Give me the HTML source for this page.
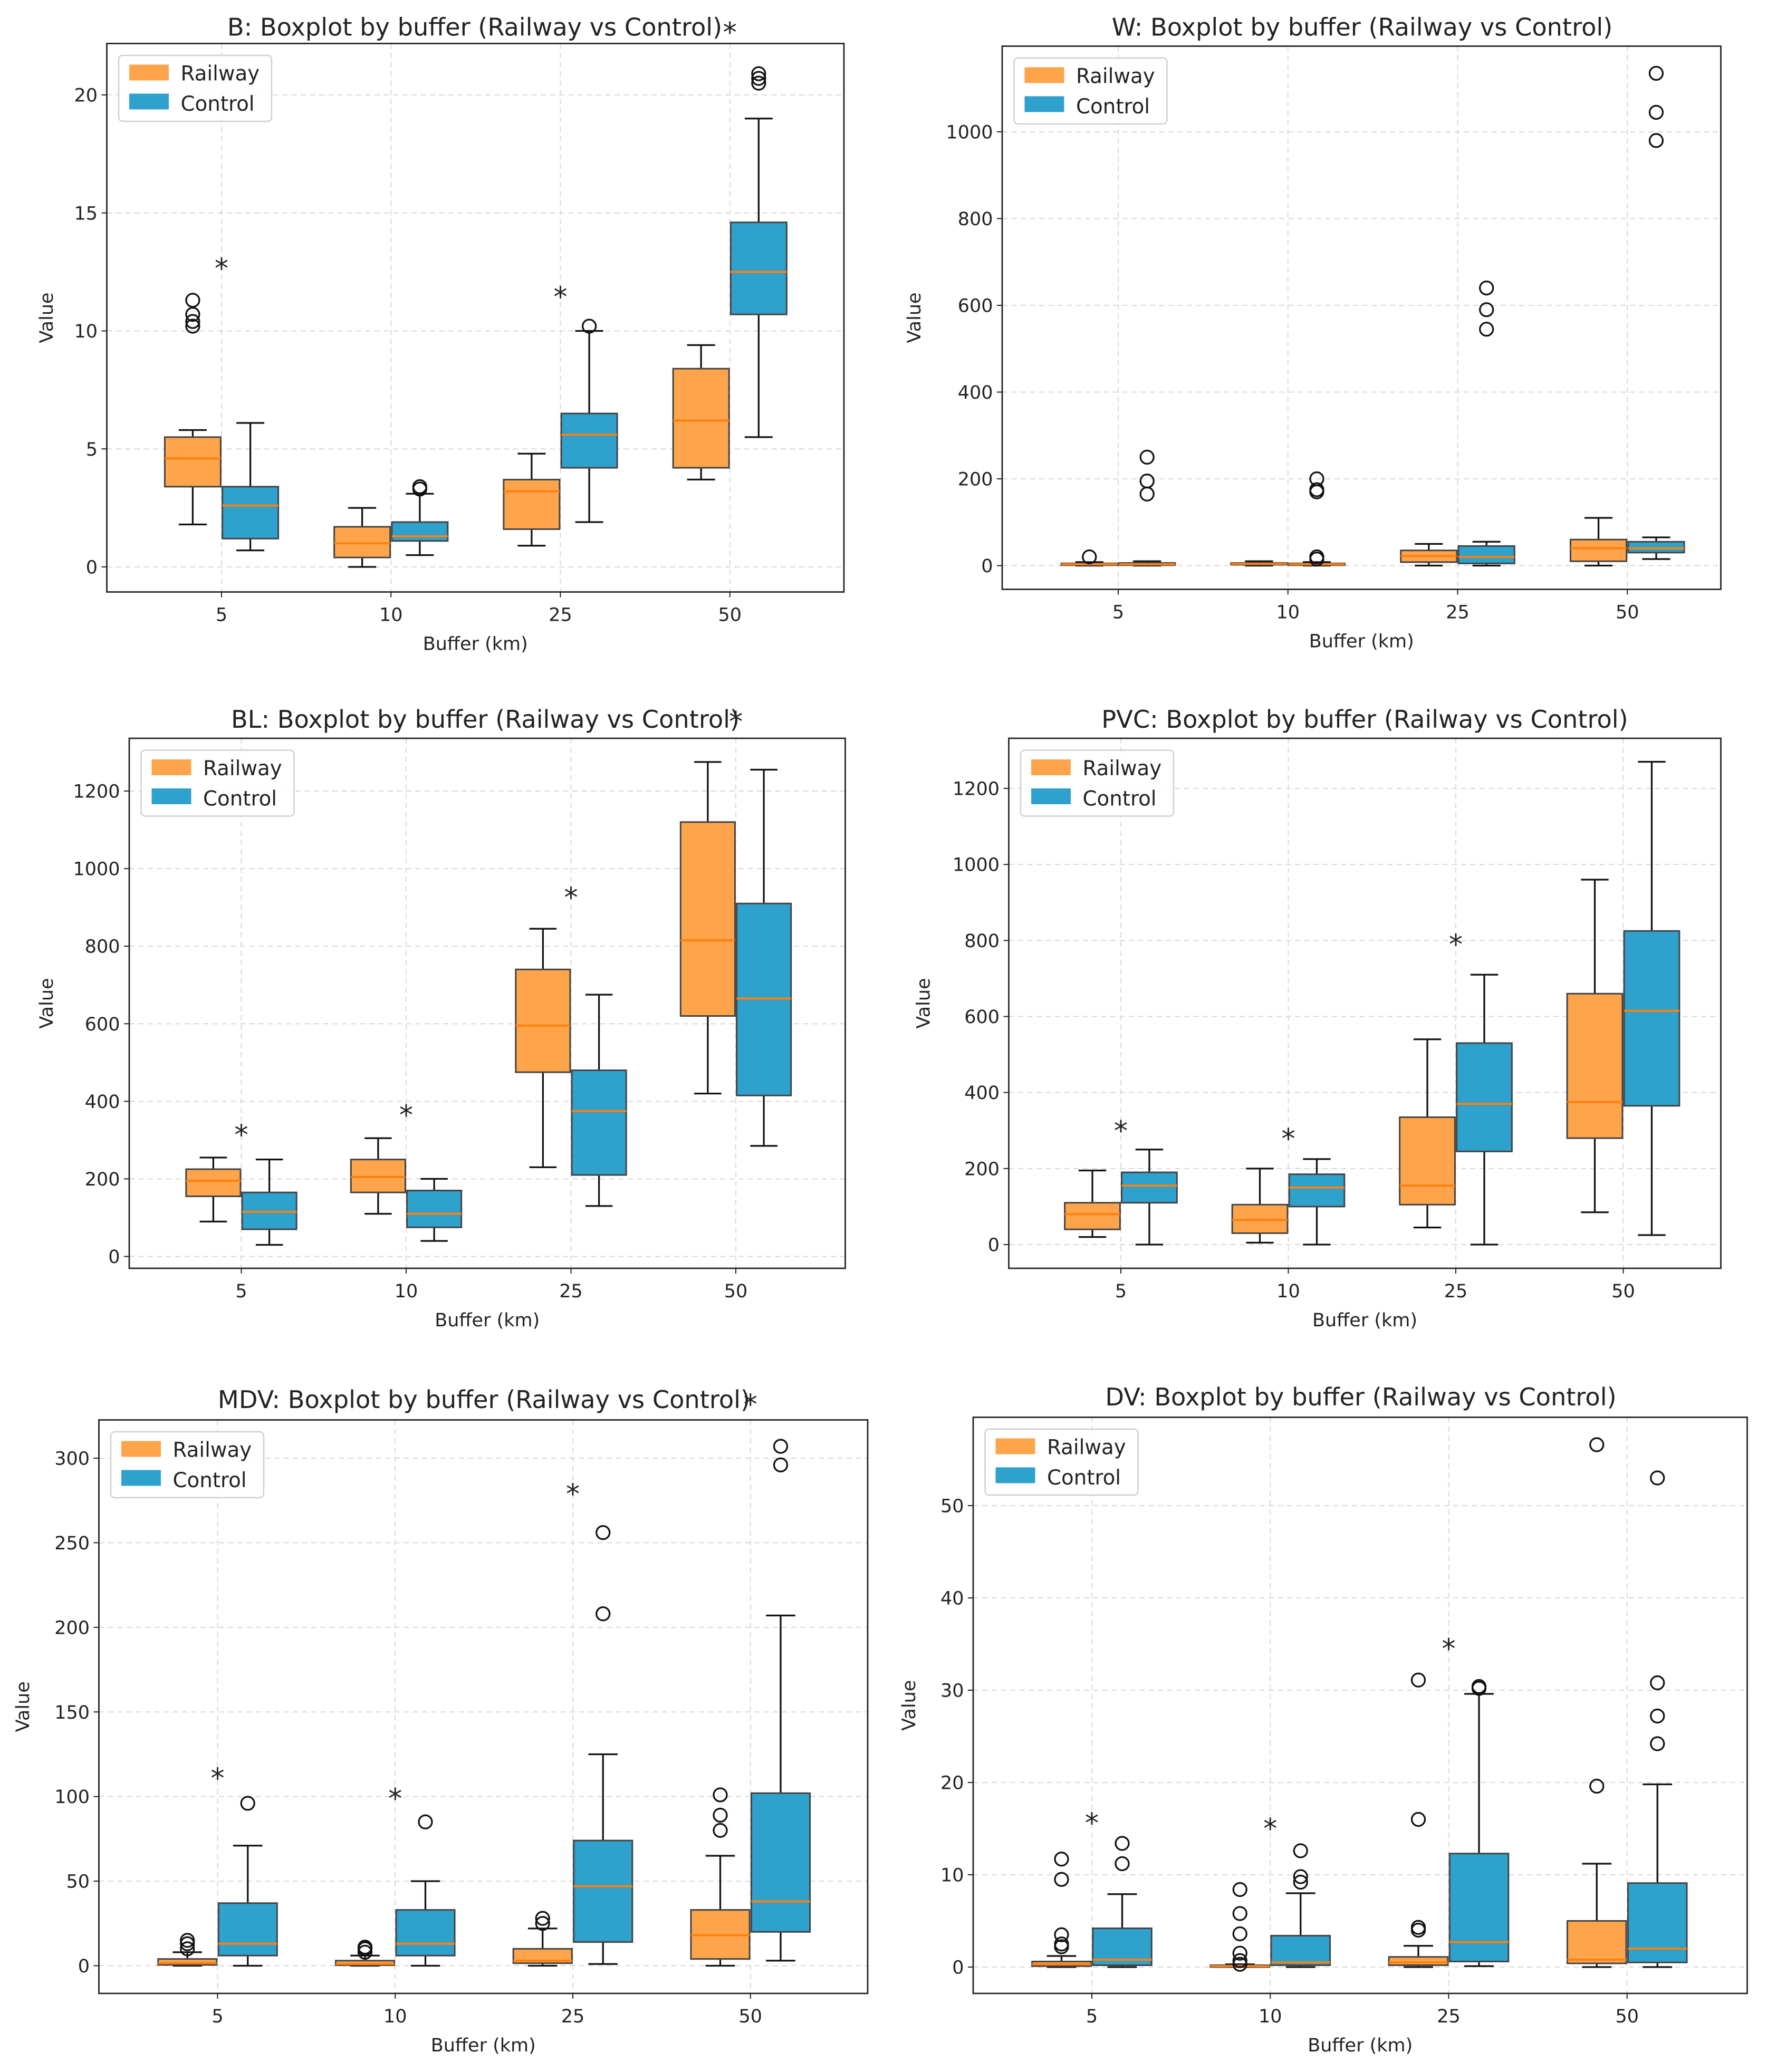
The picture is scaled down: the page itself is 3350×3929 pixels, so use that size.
<!DOCTYPE html>
<html><head><meta charset="utf-8"><style>
html,body{margin:0;padding:0;background:#fff}
svg{display:block}
text{font-family:"DejaVu Sans","Liberation Sans",sans-serif;fill:#222}
</style></head><body>
<svg id="fig" xmlns="http://www.w3.org/2000/svg" width="3350" height="3929" viewBox="0 0 1340 1571.6"></svg>
<script>
const categories = ["5","10","25","50"];
// stats per buffer: [whisker-low, q1, median, q3, whisker-high]
const bRailway = [[1.8,3.4,4.6,5.5,5.8],[0,0.4,1.0,1.7,2.5],[0.9,1.6,3.2,3.7,4.8],[3.7,4.2,6.2,8.4,9.4]];
const bControl = [[0.7,1.2,2.6,3.4,6.1],[0.5,1.1,1.3,1.9,3.1],[1.9,4.2,5.6,6.5,10.0],[5.5,10.7,12.5,14.6,19.0]];
const bRailwayFliers = [[10.2,10.4,10.7,11.3],[],[],[]];
const bControlFliers = [[],[3.3,3.4],[10.2],[20.5,20.7,20.9]];
const bStars = [12.8,null,11.6,22.8];
const bTicks = [0,5,10,15,20];

const wRailway = [[0,1,3,5,8],[0,2,4,6,10],[0,8,22,35,50],[0,10,40,60,110]];
const wControl = [[0,1,3,6,10],[0,1,3,5,8],[0,5,20,45,55],[15,30,40,55,65]];
const wRailwayFliers = [[20],[],[],[]];
const wControlFliers = [[165,195,250],[15,20,170,175,200],[545,590,640],[980,1045,1135]];
const wStars = [null,null,null,null];
const wTicks = [0,200,400,600,800,1000];

const blRailway = [[90,155,195,225,255],[110,165,205,250,305],[230,475,595,740,845],[420,620,815,1120,1275]];
const blControl = [[30,70,115,165,250],[40,75,110,170,200],[130,210,375,480,675],[285,415,665,910,1255]];
const blRailwayFliers = [[],[],[],[]];
const blControlFliers = [[],[],[],[]];
const blStars = [323,374,935,1388];
const blTicks = [0,200,400,600,800,1000,1200];

const pvcRailway = [[20,40,80,110,195],[5,30,65,105,200],[45,105,155,335,540],[85,280,375,660,960]];
const pvcControl = [[0,110,155,190,250],[0,100,150,185,225],[0,245,370,530,710],[25,365,615,825,1270]];
const pvcRailwayFliers = [[],[],[],[]];
const pvcControlFliers = [[],[],[],[]];
const pvcStars = [309,288,799,null];
const pvcTicks = [0,200,400,600,800,1000,1200];

const mdvRailway = [[0,0.5,1.5,4,8],[0,0.3,1,3,6],[0,1.5,3,10,22],[0,4,18,33,65]];
const mdvControl = [[0,6,13,37,71],[0,6,13,33,50],[1,14,47,74,125],[3,20,38,102,207]];
const mdvRailwayFliers = [[10,13,15],[8,10,11],[25,28],[80,89,101]];
const mdvControlFliers = [[96],[85],[208,256],[296,307]];
const mdvStars = [113,101,281,334];
const mdvTicks = [0,50,100,150,200,250,300];

const dvRailway = [[0,0.1,0.3,0.6,1.2],[0,0,0.1,0.2,0.3],[0,0.2,0.5,1.1,2.3],[0,0.4,0.8,5,11.2]];
const dvControl = [[0,0.2,0.8,4.2,7.9],[0,0.2,0.5,3.4,8],[0.1,0.6,2.7,12.3,29.6],[0,0.5,2,9.1,19.8]];
const dvRailwayFliers = [[2.2,2.5,3.5,9.5,11.7],[0.3,0.7,1.5,3.6,5.8,8.4],[4,4.3,16,31.1],[19.6,56.6]];
const dvControlFliers = [[11.2,13.4],[9.2,9.8,12.6],[30.2,30.4],[24.2,27.2,30.8,53]];
const dvStars = [16,15.4,34.9,null];
const dvTicks = [0,10,20,30,40,50];

const panels = [
 {id:"b",title:"B: Boxplot by buffer (Railway vs Control)",L:81,R:640,T:33,B:449,y0:430,yv:20,yp:72,x0:168,step:128.5,titleX:360,titleY:27,ylabX:40,r:bRailway,c:bControl,rf:bRailwayFliers,cf:bControlFliers,s:bStars,ticks:bTicks},
 {id:"w",title:"W: Boxplot by buffer (Railway vs Control)",L:760,R:1305,T:35,B:447,y0:429,yv:1000,yp:100,x0:848,step:128.7,titleX:1033,titleY:27,ylabX:698,r:wRailway,c:wControl,rf:wRailwayFliers,cf:wControlFliers,s:wStars,ticks:wTicks},
 {id:"bl",title:"BL: Boxplot by buffer (Railway vs Control)",L:98,R:641,T:560,B:962,y0:953,yv:1200,yp:600,x0:183,step:125,titleX:368,titleY:552,ylabX:40,r:blRailway,c:blControl,rf:blRailwayFliers,cf:blControlFliers,s:blStars,ticks:blTicks},
 {id:"pvc",title:"PVC: Boxplot by buffer (Railway vs Control)",L:765,R:1305,T:560,B:962,y0:944,yv:1200,yp:598,x0:850,step:127,titleX:1035,titleY:552,ylabX:705,r:pvcRailway,c:pvcControl,rf:pvcRailwayFliers,cf:pvcControlFliers,s:pvcStars,ticks:pvcTicks},
 {id:"mdv",title:"MDV: Boxplot by buffer (Railway vs Control)",L:75,R:658,T:1077,B:1512,y0:1491,yv:300,yp:1106,x0:165,step:134.7,titleX:367,titleY:1068,ylabX:22,r:mdvRailway,c:mdvControl,rf:mdvRailwayFliers,cf:mdvControlFliers,s:mdvStars,ticks:mdvTicks},
 {id:"dv",title:"DV: Boxplot by buffer (Railway vs Control)",L:738,R:1325,T:1075,B:1512,y0:1492,yv:50,yp:1142,x0:828,step:135.3,titleX:1032,titleY:1066,ylabX:694,r:dvRailway,c:dvControl,rf:dvRailwayFliers,cf:dvControlFliers,s:dvStars,ticks:dvTicks}
];
const NS="http://www.w3.org/2000/svg";
const svg=document.getElementById('fig');
function mk(tag,attrs,parent,txt){const e=document.createElementNS(NS,tag);for(const k in attrs)e.setAttribute(k,attrs[k]);if(txt!==undefined)e.textContent=txt;(parent||svg).appendChild(e);return e;}
panels.forEach(p=>{
 const g=mk('g',{});
 
 
 const y=v=>p.y0-(v/p.yv)*(p.y0-p.yp);
 const x=i=>p.x0+i*p.step;
 const bw=p.step*0.33, off=p.step*0.17;
 p.ticks.forEach(t=>{const gl=mk('line',{x1:p.L,x2:p.R,y1:y(t),y2:y(t),stroke:'#d9d9d9','stroke-width':0.8,'stroke-dasharray':'4,3'},g);
  
  mk('line',{x1:p.L-4,x2:p.L,y1:y(t),y2:y(t),stroke:'#222','stroke-width':0.8},g);
  const tl=mk('text',{x:p.L-7,y:y(t)+5,'text-anchor':'end','font-size':14},g,String(t));
  });
 categories.forEach((c,i)=>{const gl=mk('line',{x1:x(i),x2:x(i),y1:p.T,y2:p.B,stroke:'#d9d9d9','stroke-width':0.8,'stroke-dasharray':'4,3'},g);
  
  mk('line',{x1:x(i),x2:x(i),y1:p.B,y2:p.B+4,stroke:'#222','stroke-width':0.8},g);
  const tl=mk('text',{x:x(i),y:p.B+22,'text-anchor':'middle','font-size':14},g,c);
  });
 function box(st,fl,cx,fill,name){
  const bg=mk('g',{},g);
  
  
  const [lo,q1,md,q3,hi]=st;const cap=bw/2;
  mk('line',{x1:cx,x2:cx,y1:y(lo),y2:y(q1),stroke:'#111','stroke-width':1.3},bg);
  mk('line',{x1:cx,x2:cx,y1:y(q3),y2:y(hi),stroke:'#111','stroke-width':1.3},bg);
  mk('line',{x1:cx-cap/2,x2:cx+cap/2,y1:y(lo),y2:y(lo),stroke:'#111','stroke-width':1.3},bg);
  mk('line',{x1:cx-cap/2,x2:cx+cap/2,y1:y(hi),y2:y(hi),stroke:'#111','stroke-width':1.3},bg);
  mk('rect',{x:cx-bw/2,y:y(q3),width:bw,height:Math.max(0.5,y(q1)-y(q3)),fill:fill,stroke:'#444','stroke-width':1.2},bg);
  mk('line',{x1:cx-bw/2,x2:cx+bw/2,y1:y(md),y2:y(md),stroke:'#ff7f0e','stroke-width':1.6},bg);
  fl.forEach(v=>mk('circle',{cx:cx,cy:y(v),r:5,fill:'none',stroke:'#111','stroke-width':1.3},bg));
 }
 categories.forEach((c,i)=>{
  box(p.r[i],p.rf[i],x(i)-off,'#fea54c','railway-box-'+c);
  box(p.c[i],p.cf[i],x(i)+off,'#2ea1cd','control-box-'+c);
  if(p.s[i]!==null){const s=mk('text',{x:x(i),y:y(p.s[i])+10,'text-anchor':'middle','font-size':21},g,'*');
   }
 });
 const fr=mk('rect',{x:p.L,y:p.T,width:p.R-p.L,height:p.B-p.T,fill:'none',stroke:'#222','stroke-width':1.1},g);
 
 const t=mk('text',{x:p.titleX,y:p.titleY,'text-anchor':'middle','font-size':18.5},g,p.title);
 
 const xl=mk('text',{x:(p.L+p.R)/2,y:p.B+44,'text-anchor':'middle','font-size':14},g,'Buffer (km)');
 
 const ym=(p.T+p.B)/2;
 const yl=mk('text',{x:p.ylabX,y:ym,'text-anchor':'middle','font-size':14,transform:'rotate(-90 '+p.ylabX+' '+ym+')'},g,'Value');
 
 const lg=mk('g',{},g);
 
 
 const lx=p.L+9,ly=p.T+9;
 mk('rect',{x:lx,y:ly,width:116,height:50,rx:3,fill:'#fff','fill-opacity':0.85,stroke:'#d0d0d0','stroke-width':1},lg);
 mk('rect',{x:lx+8,y:ly+7,width:30,height:12,fill:'#fea54c'},lg);
 mk('rect',{x:lx+8,y:ly+29,width:30,height:12,fill:'#2ea1cd'},lg);
 const l1=mk('text',{x:lx+47,y:ly+19,'font-size':15.5},lg,'Railway');
 
 const l2=mk('text',{x:lx+47,y:ly+42,'font-size':15.5},lg,'Control');
 
});
</script>
</body></html>
